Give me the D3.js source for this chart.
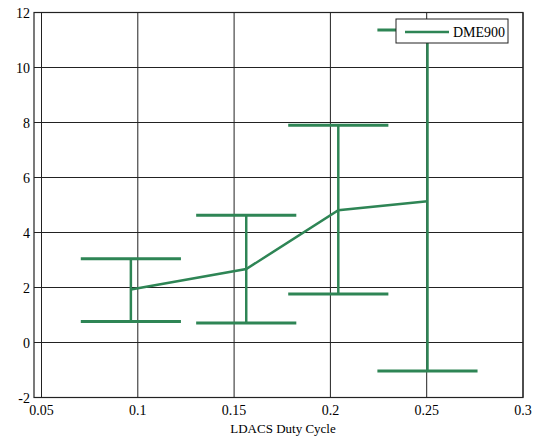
<!doctype html>
<html>
<head>
<meta charset="UTF-8">
<title>DME900</title>
<script src="https://d3js.org/d3.v7.min.js"></script>
<style>
  body { margin: 0; background: #fff; }
  text { font-family: "Liberation Serif", "DejaVu Serif", serif; }
</style>
</head>
<body>
<script>
// duty cycle points and the error bars
var dutyCycle = [0.0964, 0.1563, 0.2041, 0.2504];
var meanVal   = [1.93, 2.67, 4.81, 5.14];
var upperVal  = [3.05, 4.63, 7.90, 11.36];
var lowerVal  = [0.76, 0.71, 1.76, -1.04];
var xTicks = [0.05, 0.1, 0.15, 0.2, 0.25, 0.3];
var yTicks = [-2, 0, 2, 4, 6, 8, 10, 12];
var seriesName = "DME900";

var w = 536, h = 438;
var green = "#2e8555";
var capHalf = 0.026; // cap half width in x units

var svg = d3.select("body").append("svg").attr("width", w).attr("height", h);

var x = d3.scaleLinear().domain([0.05, 0.3]).range([41.5, 523]);
var y = d3.scaleLinear().domain([-2, 12]).range([397.5, 12.5]);
var boxLeft = 34;

// grid
svg.append("g").selectAll("line").data(xTicks).enter().append("line")
  .attr("x1", function(d){ return x(d); }).attr("x2", function(d){ return x(d); })
  .attr("y1", y(12)).attr("y2", y(-2))
  .attr("stroke", "#222").attr("stroke-width", 1);
svg.append("g").selectAll("line").data(yTicks).enter().append("line")
  .attr("x1", boxLeft).attr("x2", x(0.3))
  .attr("y1", function(d){ return y(d); }).attr("y2", function(d){ return y(d); })
  .attr("stroke", "#222").attr("stroke-width", 1);

// box
svg.append("rect").attr("x", boxLeft).attr("y", y(12))
  .attr("width", x(0.3) - boxLeft).attr("height", y(-2) - y(12))
  .attr("fill", "none").attr("stroke", "#222").attr("stroke-width", 1.2);

// tick labels
svg.append("g").selectAll("text").data(xTicks).enter().append("text")
  .attr("x", function(d){ return x(d); }).attr("y", 415)
  .attr("text-anchor", "middle").attr("font-size", 14)
  .text(function(d){ return d3.format("")(d); });
svg.append("g").selectAll("text").data(yTicks).enter().append("text")
  .attr("x", 30).attr("y", function(d){ return y(d) + 5; })
  .attr("text-anchor", "end").attr("font-size", 14)
  .text(function(d){ return d; });

svg.append("text").attr("x", 283).attr("y", 433).attr("text-anchor", "middle")
  .attr("font-size", 13).text("LDACS Duty Cycle");

var idx = d3.range(dutyCycle.length);
var g = svg.append("g").attr("stroke", green).attr("fill", "none");

// vertical bars
g.selectAll(".v").data(idx).enter().append("line")
  .attr("x1", function(i){ return x(dutyCycle[i]); }).attr("x2", function(i){ return x(dutyCycle[i]); })
  .attr("y1", function(i){ return y(upperVal[i]); }).attr("y2", function(i){ return y(lowerVal[i]); })
  .attr("stroke-width", 2.5);
// caps
var caps = [];
idx.forEach(function(i){ caps.push([i, upperVal[i]]); caps.push([i, lowerVal[i]]); });
g.selectAll(".c").data(caps).enter().append("line")
  .attr("x1", function(c){ return x(dutyCycle[c[0]] - capHalf); })
  .attr("x2", function(c){ return x(dutyCycle[c[0]] + capHalf); })
  .attr("y1", function(c){ return y(c[1]); }).attr("y2", function(c){ return y(c[1]); })
  .attr("stroke-width", 3);
// mean line
g.append("path").datum(idx)
  .attr("d", d3.line().x(function(i){ return x(dutyCycle[i]); }).y(function(i){ return y(meanVal[i]); }))
  .attr("stroke-width", 2.5);

// legend
var lg = svg.append("g");
lg.append("rect").attr("x", 396).attr("y", 19).attr("width", 112).attr("height", 24)
  .attr("fill", "#fff").attr("stroke", "#222").attr("stroke-width", 1);
lg.append("line").attr("x1", 405).attr("x2", 449).attr("y1", 32).attr("y2", 32)
  .attr("stroke", green).attr("stroke-width", 2.5);
lg.append("text").attr("x", 453).attr("y", 37).attr("font-size", 14).text(seriesName);
</script>
</body>
</html>
